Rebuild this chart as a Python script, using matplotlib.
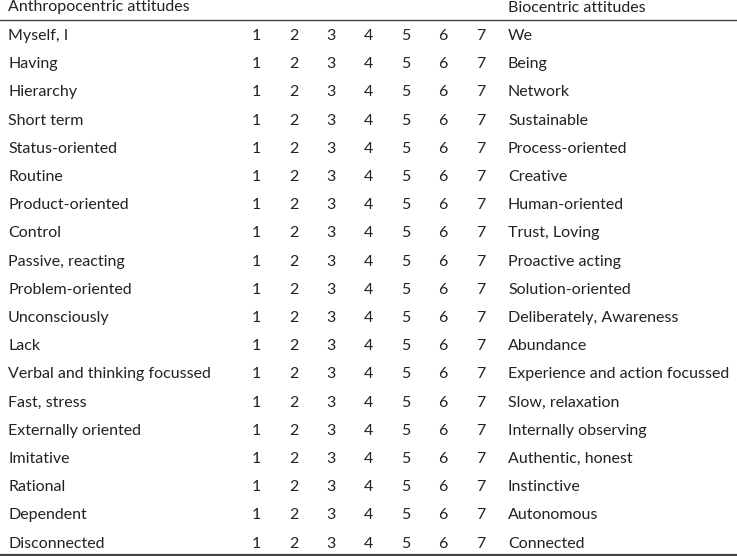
import matplotlib.pyplot as plt

left_labels = ["Myself, I", "Having", "Hierarchy", "Short term", "Status-oriented",
               "Routine", "Product-oriented", "Control", "Passive, reacting",
               "Problem-oriented", "Unconsciously", "Lack", "Verbal and thinking focussed",
               "Fast, stress", "Externally oriented", "Imitative", "Rational",
               "Dependent", "Disconnected"]
right_labels = ["We", "Being", "Network", "Sustainable", "Process-oriented",
                "Creative", "Human-oriented", "Trust, Loving", "Proactive acting",
                "Solution-oriented", "Deliberately, Awareness", "Abundance",
                "Experience and action focussed", "Slow, relaxation",
                "Internally observing", "Authentic, honest", "Instinctive",
                "Autonomous", "Connected"]
scale = [1, 2, 3, 4, 5, 6, 7]
headers = ["Anthropocentric attitudes", "Biocentric attitudes"]

plt.rcParams['font.family'] = ['Lato', 'DejaVu Sans']
fig = plt.figure(figsize=(7.37, 5.56), dpi=100)
ax = fig.add_axes([0, 0, 1, 1])
ax.set_xlim(0, 737)
ax.set_ylim(556, 0)
ax.axis('off')

fs = 11.5
col = '#222222'
ax.text(8, 7.5, headers[0], fontsize=fs, va='center', ha='left', color=col)
ax.text(508, 7.5, headers[1], fontsize=fs, va='center', ha='left', color=col)
ax.plot([0, 737], [19.5, 19.5], color='#444444', lw=1)

num_x = [256, 294, 331, 368, 406, 443, 481]
y0, dy = 36, 28.2
for i, (l, r) in enumerate(zip(left_labels, right_labels)):
    y = y0 + i * dy
    ax.text(8, y, l, fontsize=fs, va='center', ha='left', color=col)
    for x, n in zip(num_x, scale):
        ax.text(x, y, str(n), fontsize=fs, va='center', ha='center', color=col)
    ax.text(508, y, r, fontsize=fs, va='center', ha='left', color=col)

ax.plot([0, 737], [554.5, 554.5], color='#444444', lw=1.6)

fig.savefig('out.png', dpi=100)
